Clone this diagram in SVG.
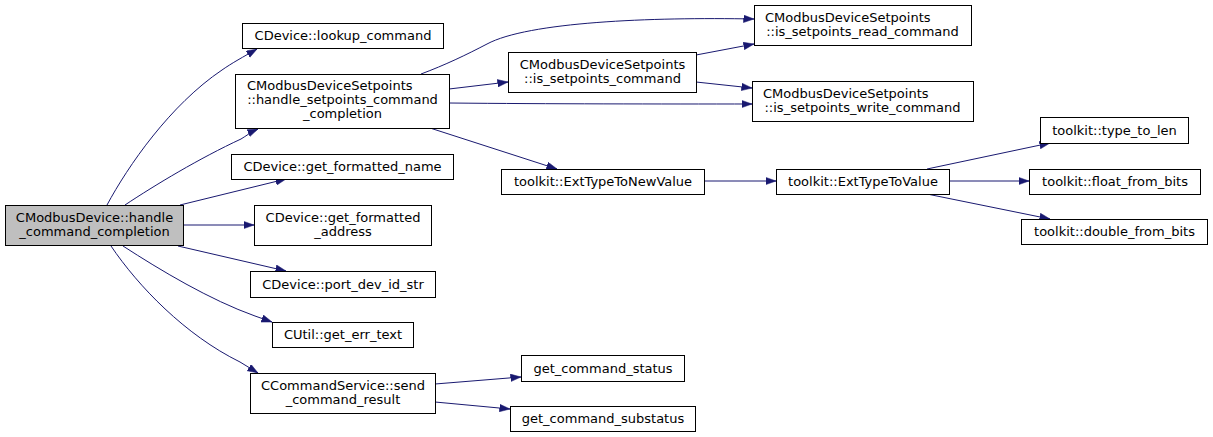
<svg xmlns="http://www.w3.org/2000/svg" width="1213" height="437" viewBox="0 0 1213 437">
<defs>
<style>
.n rect{fill:#fff;stroke:#000;stroke-width:1}
.n.root rect{fill:#bfbfbf}
.n text{font-family:"DejaVu Sans",sans-serif;font-size:13px;fill:#000;text-anchor:middle}
.n text.l{text-anchor:start}
.e path{fill:none;stroke:#191970;stroke-width:1;marker-end:url(#ah)}
</style>
<marker id="ah" markerUnits="userSpaceOnUse" markerWidth="11" markerHeight="8" refX="10.5" refY="3.75" orient="auto">
<path d="M0,0 L10.5,3.75 L0,7.5 z" fill="#191970" stroke="#191970" stroke-width="0.5"/>
</marker>
</defs>
<rect width="1213" height="437" fill="#fff"/>
<g id="edges" class="e">
<path d="M107,205 C128,166 170,105 222,70 C232,63 243,57 257,49"/>
<path d="M125,205 C155,185 200,158 241,139 C246,136 251,132 258,129"/>
<path d="M180,205 L286,179"/>
<path d="M183,225 L254,225"/>
<path d="M178,246 L286,271"/>
<path d="M123,246 C160,270 210,300 255,316 L272,322"/>
<path d="M111,246 C138,286 185,335 240,362 L258,373"/>
<path d="M421,74 C445,65 466,55 487,44 C528,22 650,17 754,19"/>
<path d="M449,89 L508,82"/>
<path d="M449,103 C550,104 660,104 752,104"/>
<path d="M430,128 L557,169"/>
<path d="M696,55 L754,44"/>
<path d="M696,82 L752,88"/>
<path d="M704,181 L776,181"/>
<path d="M927,169 L1050,143"/>
<path d="M949,181 L1029,181"/>
<path d="M927,194 L1050,219"/>
<path d="M435,384 L521,377"/>
<path d="M435,402 L510,409"/>
</g>
<g id="n_root" class="n root"><rect x="5.5" y="205.5" width="178" height="40"/><text x="94.5" y="221.5">CModbusDevice::handle</text><text x="94.5" y="235.5">_command_completion</text></g>
<g id="n_lookup" class="n"><rect x="242.5" y="23.5" width="201" height="25"/><text x="343" y="40">CDevice::lookup_command</text></g>
<g id="n_hsc" class="n"><rect x="235.5" y="74.5" width="214" height="54"/><text class="l" x="247" y="90">CModbusDeviceSetpoints</text><text x="342.5" y="104">::handle_setpoints_command</text><text x="342.5" y="118">_completion</text></g>
<g id="n_fname" class="n"><rect x="231.5" y="154.5" width="222" height="25"/><text x="342.5" y="171">CDevice::get_formatted_name</text></g>
<g id="n_faddr" class="n"><rect x="254.5" y="205.5" width="177" height="40"/><text x="343" y="221.5">CDevice::get_formatted</text><text x="343" y="235.5">_address</text></g>
<g id="n_port" class="n"><rect x="250.5" y="271.5" width="185" height="26"/><text x="343" y="288.5">CDevice::port_dev_id_str</text></g>
<g id="n_err" class="n"><rect x="272.5" y="322.5" width="141" height="25"/><text x="343" y="339">CUtil::get_err_text</text></g>
<g id="n_send" class="n"><rect x="250.5" y="373.5" width="185" height="40"/><text x="343" y="389.5">CCommandService::send</text><text x="343" y="403.5">_command_result</text></g>
<g id="n_iscmd" class="n"><rect x="508.5" y="52.5" width="188" height="40"/><text x="602.5" y="68.5">CModbusDeviceSetpoints</text><text x="602.5" y="82.5">::is_setpoints_command</text></g>
<g id="n_read" class="n"><rect x="754.5" y="5.5" width="217" height="40"/><text class="l" x="765" y="21.5">CModbusDeviceSetpoints</text><text x="862.5" y="35.5">::is_setpoints_read_command</text></g>
<g id="n_write" class="n"><rect x="752.5" y="81.5" width="221" height="40"/><text class="l" x="763" y="97.5">CModbusDeviceSetpoints</text><text x="862.5" y="111.5">::is_setpoints_write_command</text></g>
<g id="n_newval" class="n"><rect x="501.5" y="169.5" width="203" height="25"/><text x="603" y="186">toolkit::ExtTypeToNewValue</text></g>
<g id="n_val" class="n"><rect x="776.5" y="169.5" width="173" height="25"/><text x="863" y="186">toolkit::ExtTypeToValue</text></g>
<g id="n_len" class="n"><rect x="1040.5" y="117.5" width="148" height="26"/><text x="1114.5" y="134.5">toolkit::type_to_len</text></g>
<g id="n_float" class="n"><rect x="1029.5" y="169.5" width="171" height="25"/><text x="1115" y="186">toolkit::float_from_bits</text></g>
<g id="n_double" class="n"><rect x="1021.5" y="219.5" width="186" height="25"/><text x="1114.5" y="236">toolkit::double_from_bits</text></g>
<g id="n_status" class="n"><rect x="521.5" y="355.5" width="163" height="26"/><text x="603" y="372.5">get_command_status</text></g>
<g id="n_substatus" class="n"><rect x="510.5" y="406.5" width="185" height="25"/><text x="603" y="423">get_command_substatus</text></g>
</svg>
